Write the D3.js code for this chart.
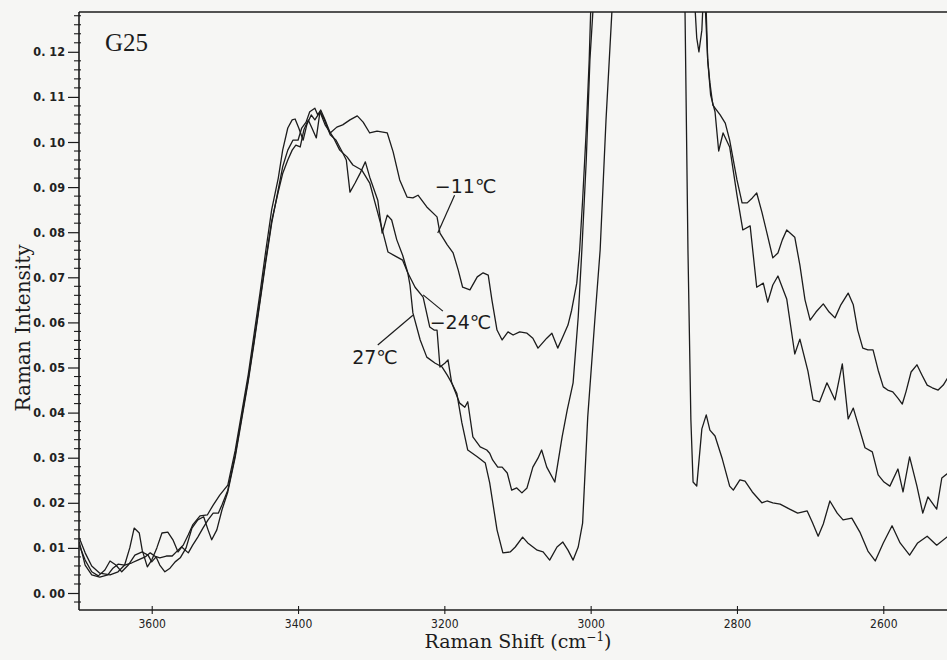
<!DOCTYPE html>
<html>
<head>
<meta charset="utf-8">
<script src="https://cdn.jsdelivr.net/npm/d3@7/dist/d3.min.js"></script>
<style>
  html, body { margin: 0; padding: 0; background: #f6f6f4; }
  svg { display: block; }
</style>
</head>
<body>
<svg id="chart" width="947" height="660"></svg>
<script>
// Raman spectra of sample G25 at three temperatures: [Raman shift (cm-1), intensity]
const minus11C = [
  [3699,0.0106],[3691,0.0073],[3682,0.0047],[3673,0.0038],[3664,0.0051],[3657,0.0071],[3649,0.0062],
  [3641,0.0047],[3632,0.0062],[3623,0.0084],[3613,0.0091],[3605,0.0084],[3600,0.0069],[3594,0.0080],
  [3589,0.0062],[3582,0.0047],[3575,0.0055],[3568,0.0069],[3561,0.0078],[3553,0.0100],[3545,0.0144],
  [3537,0.0162],[3529,0.0169],[3523,0.0140],[3518,0.0118],[3511,0.0140],[3504,0.0184],[3496,0.0224],
  [3486,0.0300],[3477,0.0385],[3468,0.0470],[3460,0.0555],[3452,0.0645],[3444,0.0735],[3436,0.0820],
  [3427,0.0895],[3421,0.0945],[3414,0.0982],[3407,0.1004],[3400,0.1004],[3395,0.1031],[3389,0.1044],
  [3384,0.1067],[3377,0.1075],[3373,0.1060],[3369,0.1071],[3363,0.1049],[3356,0.1020],[3347,0.1033],
  [3339,0.1038],[3329,0.1049],[3319,0.1058],[3311,0.1044],[3302,0.1020],[3292,0.1024],[3284,0.1022],
  [3278,0.1020],[3270,0.0978],[3261,0.0916],[3251,0.0878],[3243,0.0876],[3236,0.0882],[3224,0.0856],
  [3210,0.0834],[3206,0.0798],[3196,0.0772],[3188,0.0754],[3181,0.0716],[3175,0.0678],[3165,0.0672],
  [3155,0.0701],[3147,0.0710],[3140,0.0705],[3135,0.0650],[3128,0.0583],[3121,0.0561],[3113,0.0579],
  [3106,0.0572],[3097,0.0579],[3087,0.0576],[3079,0.0565],[3072,0.0543],[3060,0.0565],[3053,0.0576],
  [3045,0.0543],[3038,0.0568],[3031,0.0594],[3026,0.0627],[3019,0.0687],[3015,0.0761],[3011,0.0871],
  [3006,0.1027],[3002,0.1182],[3000,0.1288],[2993,0.1758],[2926,0.6000],[2848,0.1647],[2842,0.1288],
  [2840,0.1182],[2837,0.1131],[2833,0.1082],[2823,0.1060],[2816,0.1042],[2810,0.1004],[2800,0.0916],
  [2793,0.0865],[2786,0.0865],[2779,0.0876],[2773,0.0887],[2766,0.0845],[2759,0.0798],[2751,0.0743],
  [2744,0.0754],[2738,0.0783],[2732,0.0805],[2721,0.0789],[2714,0.0727],[2707,0.0650],[2700,0.0605],
  [2692,0.0623],[2682,0.0641],[2674,0.0623],[2666,0.0610],[2658,0.0639],[2648,0.0665],[2641,0.0639],
  [2635,0.0583],[2628,0.0543],[2621,0.0539],[2614,0.0539],[2607,0.0494],[2600,0.0457],[2594,0.0450],
  [2587,0.0446],[2580,0.0432],[2574,0.0419],[2569,0.0446],[2562,0.0490],[2554,0.0506],[2547,0.0483],
  [2540,0.0461],[2533,0.0455],[2525,0.0450],[2518,0.0461],[2510,0.0482]
];

const minus24C = [
  [3699,0.0122],[3691,0.0089],[3682,0.0060],[3671,0.0044],[3657,0.0040],[3646,0.0047],[3637,0.0062],
  [3630,0.0100],[3624,0.0144],[3617,0.0133],[3613,0.0095],[3606,0.0058],[3600,0.0073],[3593,0.0100],
  [3586,0.0133],[3578,0.0135],[3571,0.0118],[3564,0.0091],[3559,0.0102],[3550,0.0089],[3544,0.0106],
  [3537,0.0124],[3530,0.0144],[3523,0.0162],[3516,0.0177],[3509,0.0177],[3504,0.0195],[3496,0.0228],
  [3486,0.0305],[3477,0.0390],[3468,0.0475],[3460,0.0560],[3452,0.0650],[3444,0.0740],[3436,0.0825],
  [3427,0.0890],[3421,0.0930],[3414,0.0960],[3408,0.0982],[3403,0.0993],[3397,0.0989],[3392,0.1027],
  [3386,0.1049],[3381,0.1031],[3375,0.1009],[3370,0.1067],[3365,0.1053],[3356,0.1016],[3348,0.1004],
  [3339,0.0976],[3334,0.0960],[3329,0.0889],[3322,0.0909],[3315,0.0931],[3308,0.0956],[3302,0.0922],
  [3291,0.0871],[3285,0.0798],[3278,0.0838],[3272,0.0827],[3265,0.0783],[3257,0.0749],[3250,0.0710],
  [3240,0.0678],[3229,0.0656],[3220,0.0590],[3214,0.0583],[3210,0.0583],[3206,0.0501],[3199,0.0510],
  [3195,0.0517],[3190,0.0466],[3179,0.0421],[3172,0.0412],[3168,0.0424],[3161,0.0346],[3151,0.0324],
  [3142,0.0317],[3138,0.0310],[3134,0.0295],[3127,0.0279],[3121,0.0279],[3114,0.0266],[3108,0.0228],
  [3101,0.0233],[3094,0.0222],[3087,0.0233],[3079,0.0279],[3072,0.0299],[3067,0.0317],[3060,0.0279],
  [3049,0.0246],[3039,0.0346],[3032,0.0406],[3024,0.0466],[3017,0.0612],[3012,0.0761],[3006,0.0960],
  [3001,0.1182],[2997,0.1288],[2990,0.1758],[2926,0.6000],[2862,0.1537],[2857,0.1288],[2855,0.1231],
  [2852,0.1200],[2848,0.1248],[2845,0.1359],[2840,0.1182],[2836,0.1104],[2830,0.1067],[2825,0.0980],
  [2819,0.1020],[2810,0.0989],[2800,0.0882],[2792,0.0805],[2782,0.0814],[2773,0.0678],[2764,0.0687],
  [2758,0.0645],[2751,0.0683],[2744,0.0703],[2732,0.0652],[2721,0.0530],[2714,0.0563],[2703,0.0492],
  [2696,0.0428],[2687,0.0424],[2677,0.0466],[2666,0.0428],[2656,0.0508],[2648,0.0386],[2641,0.0410],
  [2633,0.0366],[2625,0.0322],[2615,0.0313],[2607,0.0262],[2599,0.0246],[2591,0.0237],[2580,0.0275],
  [2573,0.0224],[2564,0.0302],[2554,0.0237],[2546,0.0177],[2539,0.0213],[2527,0.0186],[2520,0.0255],
  [2510,0.0268]
];

const plus27C = [
  [3699,0.0113],[3691,0.0062],[3682,0.0040],[3671,0.0035],[3660,0.0040],[3653,0.0055],[3646,0.0064],
  [3637,0.0062],[3627,0.0067],[3619,0.0073],[3609,0.0080],[3602,0.0089],[3596,0.0082],[3589,0.0078],
  [3580,0.0082],[3572,0.0082],[3564,0.0095],[3557,0.0106],[3550,0.0129],[3544,0.0151],[3534,0.0171],
  [3524,0.0173],[3516,0.0195],[3507,0.0217],[3496,0.0239],[3486,0.0315],[3477,0.0400],[3468,0.0485],
  [3460,0.0575],[3452,0.0665],[3444,0.0760],[3436,0.0850],[3427,0.0920],[3421,0.0982],[3414,0.1031],
  [3408,0.1049],[3404,0.1051],[3399,0.1031],[3393,0.1004],[3388,0.1038],[3382,0.1060],[3377,0.1049],
  [3370,0.1067],[3363,0.1038],[3352,0.1011],[3343,0.0982],[3333,0.0967],[3325,0.0949],[3313,0.0938],
  [3302,0.0909],[3291,0.0843],[3284,0.0800],[3277,0.0756],[3267,0.0747],[3257,0.0738],[3250,0.0710],
  [3247,0.0683],[3243,0.0621],[3233,0.0561],[3224,0.0523],[3213,0.0510],[3203,0.0501],[3196,0.0483],
  [3190,0.0466],[3183,0.0443],[3176,0.0377],[3168,0.0317],[3155,0.0302],[3144,0.0288],[3138,0.0244],
  [3128,0.0140],[3120,0.0089],[3110,0.0091],[3103,0.0102],[3093,0.0124],[3086,0.0111],[3073,0.0095],
  [3065,0.0091],[3056,0.0073],[3046,0.0102],[3038,0.0113],[3031,0.0095],[3024,0.0073],[3017,0.0102],
  [3011,0.0155],[3004,0.0390],[2994,0.0612],[2987,0.0761],[2979,0.1049],[2971,0.1288],[2963,0.1647],
  [2926,0.6000],[2878,0.1647],[2871,0.1288],[2867,0.0761],[2863,0.0384],[2860,0.0246],[2855,0.0237],
  [2848,0.0364],[2842,0.0395],[2837,0.0361],[2830,0.0348],[2820,0.0297],[2810,0.0237],[2805,0.0228],
  [2796,0.0251],[2789,0.0248],[2779,0.0224],[2766,0.0200],[2759,0.0204],[2751,0.0200],[2741,0.0197],
  [2728,0.0186],[2717,0.0177],[2704,0.0182],[2697,0.0157],[2689,0.0126],[2682,0.0153],[2673,0.0204],
  [2663,0.0177],[2655,0.0162],[2643,0.0166],[2632,0.0135],[2621,0.0093],[2611,0.0071],[2600,0.0111],
  [2588,0.0149],[2577,0.0111],[2564,0.0084],[2553,0.0111],[2540,0.0126],[2527,0.0106],[2510,0.0128]
];

const seriesList = [minus11C, minus24C, plus27C];

// Axis ticks
const shiftTicks = [3600, 3400, 3200, 3000, 2800, 2600];
const intensityTicks = [0.00, 0.01, 0.02, 0.03, 0.04, 0.05, 0.06, 0.07, 0.08, 0.09, 0.10, 0.11, 0.12];
const intensityMinorStep = 0.002;

// Temperature labels with leader lines, all in data units
const labelText  = ["\u221211\u2103", "\u221224\u2103", "27\u2103"];
const labelPos   = [[3213, 0.0887], [3220, 0.0586], [3326, 0.0508]];
const leaderFrom = [[3186, 0.0882], [3202, 0.0625], [3291, 0.0550]];
const leaderTo   = [[3209, 0.0798], [3229, 0.0661], [3243, 0.0616]];

(function draw() {
  const svg = d3.select("#chart");
  const W = 947, H = 660;
  const plotLeft = 79, plotRight = 947, plotTop = 12, plotBottom = 610;

  const x = d3.scaleLinear().domain([3699.4, 2512.9]).range([plotLeft, plotRight]);
  const y = d3.scaleLinear().domain([0, 0.12]).range([593, 51.8]);

  svg.append("rect").attr("width", W).attr("height", H).attr("fill", "#f6f6f4");

  svg.append("defs").append("clipPath").attr("id", "plot-clip")
    .append("rect").attr("x", plotLeft).attr("y", plotTop)
    .attr("width", plotRight - plotLeft).attr("height", plotBottom - plotTop);

  const ink = "#1c1c1c";

  // Frame: top line, left and bottom axes
  svg.append("line").attr("x1", plotLeft).attr("x2", W).attr("y1", plotTop).attr("y2", plotTop)
    .attr("stroke", ink).attr("stroke-width", 1.4);
  svg.append("line").attr("x1", plotLeft).attr("x2", plotLeft).attr("y1", plotTop).attr("y2", plotBottom)
    .attr("stroke", ink).attr("stroke-width", 1.6);
  svg.append("line").attr("x1", plotLeft).attr("x2", W).attr("y1", plotBottom).attr("y2", plotBottom)
    .attr("stroke", ink).attr("stroke-width", 1.6);

  // Y axis: major ticks with labels
  const yAxis = d3.axisLeft(y)
    .tickValues(intensityTicks)
    .tickSize(11)
    .tickPadding(3)
    .tickFormat(d => d3.format(".2f")(d).replace(".", ". "));
  const gy = svg.append("g").attr("transform", `translate(${plotLeft},0)`).call(yAxis);
  gy.select(".domain").remove();
  gy.selectAll(".tick line").attr("stroke", ink).attr("stroke-width", 1.2);
  gy.selectAll(".tick text")
    .attr("fill", "#222")
    .style("font-family", "'DejaVu Sans Condensed', 'DejaVu Sans', sans-serif")
    .style("font-weight", "bold")
    .style("font-size", "12.5px");

  // Y axis minor ticks
  const yMinor = d3.range(-0.002, 0.1285, intensityMinorStep)
    .filter(v => intensityTicks.every(t => Math.abs(t - v) > 1e-6));
  svg.append("g").selectAll("line").data(yMinor).join("line")
    .attr("x1", plotLeft - 5).attr("x2", plotLeft + 2)
    .attr("y1", d => y(d)).attr("y2", d => y(d))
    .attr("stroke", ink).attr("stroke-width", 1.1);

  // X axis
  const xAxis = d3.axisBottom(x)
    .tickValues(shiftTicks)
    .tickSize(4)
    .tickPadding(5)
    .tickFormat(d3.format("d"));
  const gx = svg.append("g").attr("transform", `translate(0,${plotBottom})`).call(xAxis);
  gx.select(".domain").remove();
  gx.selectAll(".tick line").attr("stroke", ink).attr("stroke-width", 1.1).attr("y1", -4);
  gx.selectAll(".tick text")
    .attr("fill", "#222")
    .style("font-family", "'DejaVu Sans Condensed', 'DejaVu Sans', sans-serif")
    .style("font-size", "12px");

  // Spectra
  const line = d3.line().x(d => x(d[0])).y(d => y(d[1]));
  svg.append("g").attr("clip-path", "url(#plot-clip)")
    .selectAll("path").data(seriesList).join("path")
    .attr("d", line)
    .attr("fill", "none")
    .attr("stroke", ink)
    .attr("stroke-width", 1.3)
    .attr("stroke-linejoin", "round");

  // Temperature labels
  const ann = svg.append("g");
  labelText.forEach((t, i) => {
    ann.append("line")
      .attr("x1", x(leaderFrom[i][0])).attr("y1", y(leaderFrom[i][1]))
      .attr("x2", x(leaderTo[i][0])).attr("y2", y(leaderTo[i][1]))
      .attr("stroke", ink).attr("stroke-width", 1.2);
    ann.append("text")
      .attr("x", x(labelPos[i][0])).attr("y", y(labelPos[i][1]))
      .attr("fill", ink)
      .style("font-family", "'DejaVu Sans', sans-serif")
      .style("font-size", "19px")
      .text(t);
  });

  // Sample name
  svg.append("text").attr("x", 105).attr("y", 51)
    .attr("fill", ink)
    .style("font-family", "'Liberation Serif', serif")
    .style("font-size", "25px")
    .text("G25");

  // Axis titles
  svg.append("text")
    .attr("transform", "translate(30,328) rotate(-90)")
    .attr("text-anchor", "middle")
    .attr("fill", ink)
    .style("font-family", "'DejaVu Serif', serif")
    .style("font-size", "20px")
    .text("Raman Intensity");

  const xt = svg.append("text")
    .attr("x", 518).attr("y", 648)
    .attr("text-anchor", "middle")
    .attr("fill", ink)
    .style("font-family", "'DejaVu Serif', serif")
    .style("font-size", "19px");
  xt.append("tspan").text("Raman Shift (cm");
  xt.append("tspan").attr("dy", -7).style("font-size", "12px").text("\u22121");
  xt.append("tspan").attr("dy", 7).text(")");
})();
</script>
</body>
</html>
